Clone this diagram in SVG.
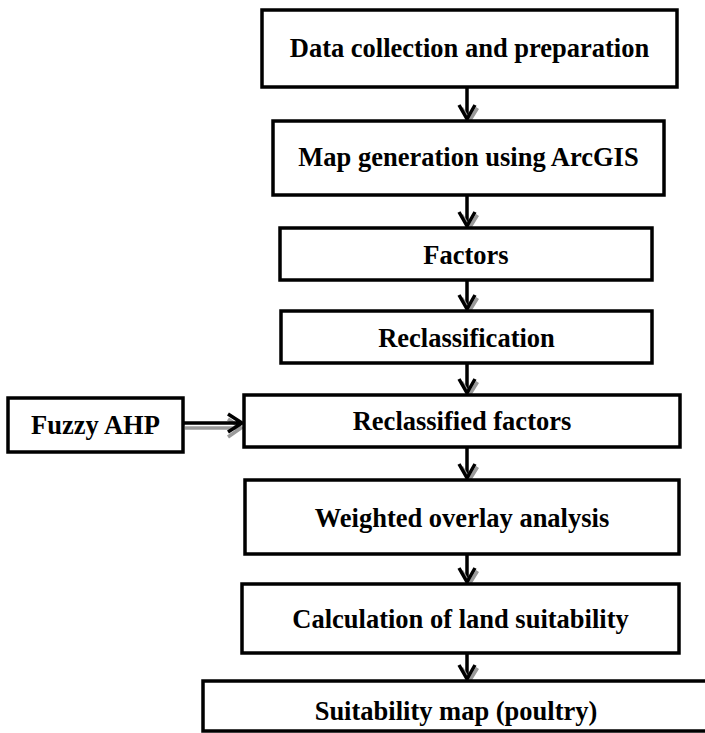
<svg xmlns="http://www.w3.org/2000/svg" xmlns:xlink="http://www.w3.org/1999/xlink" width="705" height="733" viewBox="0 0 705 733">
<style>
.box{fill:#fff;stroke:#000;stroke-width:3.5}
.lbl{font-family:"Liberation Serif","Times New Roman",serif;font-weight:bold;font-size:26.5px;fill:#000;text-anchor:middle}
.ln{fill:none;stroke:#000;stroke-width:3.5}
.sh{fill:none;stroke:#9a9a9a;stroke-width:3.5}
</style>
<defs>
<g id="vhead">
<path class="sh" d="M-7,-12 L1,1 L9,-12" transform="translate(1.5,1)"/>
<path class="ln" d="M-8,-14 L0,0 L8,-14"/>
</g>
</defs>
<rect width="705" height="733" fill="#fff"/>
<g id="connectors">
<g id="a1"><line class="ln" x1="467" y1="87" x2="467" y2="119"/><use xlink:href="#vhead" transform="translate(467,119)"/></g>
<g id="a2"><line class="ln" x1="467" y1="195" x2="467" y2="226"/><use xlink:href="#vhead" transform="translate(467,226)"/></g>
<g id="a3"><line class="ln" x1="467" y1="280" x2="467" y2="309"/><use xlink:href="#vhead" transform="translate(467,309)"/></g>
<g id="a4"><line class="ln" x1="467" y1="363" x2="467" y2="393"/><use xlink:href="#vhead" transform="translate(467,393)"/></g>
<g id="a5"><line class="ln" x1="467" y1="447" x2="467" y2="478"/><use xlink:href="#vhead" transform="translate(467,478)"/></g>
<g id="a6"><line class="ln" x1="467" y1="554" x2="467" y2="582"/><use xlink:href="#vhead" transform="translate(467,582)"/></g>
<g id="a7"><line class="ln" x1="467" y1="653" x2="467" y2="679"/><use xlink:href="#vhead" transform="translate(467,679)"/></g>
<g id="a8">
<path class="sh" d="M185,428 L239,428 M228,419 L241,428 L228,437" stroke-width="4"/>
<path class="ln" d="M183,423 L241,423 M228,414 L242,423 L228,432" stroke-width="4"/>
</g>
</g>
<g id="n1"><rect class="box" x="262" y="10" width="415" height="77"/><text class="lbl" x="469.5" y="57">Data collection and preparation</text></g>
<g id="n2"><rect class="box" x="273" y="121" width="391" height="74"/><text class="lbl" x="468.5" y="166">Map generation using ArcGIS</text></g>
<g id="n3"><rect class="box" x="280" y="228" width="372" height="52"/><text class="lbl" x="466" y="264">Factors</text></g>
<g id="n4"><rect class="box" x="281" y="311" width="371" height="52"/><text class="lbl" x="466.5" y="347">Reclassification</text></g>
<g id="n5"><rect class="box" x="244" y="395" width="436" height="52"/><text class="lbl" x="462" y="430">Reclassified factors</text></g>
<g id="n6"><rect class="box" x="8" y="398" width="175" height="54"/><text class="lbl" x="95.5" y="434">Fuzzy AHP</text></g>
<g id="n7"><rect class="box" x="245" y="480" width="434" height="74"/><text class="lbl" x="462" y="527">Weighted overlay analysis</text></g>
<g id="n8"><rect class="box" x="242" y="584" width="437" height="69"/><text class="lbl" x="460.5" y="628">Calculation of land suitability</text></g>
<g id="n9"><rect class="box" x="203" y="681" width="520" height="50"/><text class="lbl" x="456" y="720">Suitability map (poultry)</text></g>
</svg>
